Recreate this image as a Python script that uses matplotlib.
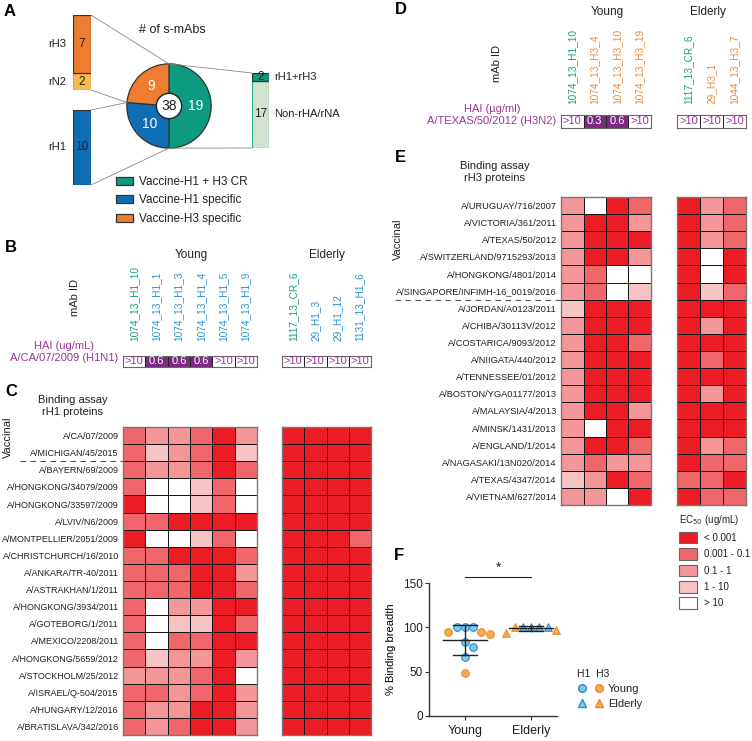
import numpy as np
import matplotlib.pyplot as plt
from matplotlib.colors import ListedColormap, BoundaryNorm
from matplotlib.patches import Circle, ConnectionPatch, Patch
from matplotlib.lines import Line2D
from matplotlib.legend_handler import HandlerTuple

plt.rcParams['font.family'] = ['Liberation Sans', 'DejaVu Sans']
plt.rcParams['text.color'] = '#231f20'
plt.rcParams['xtick.color'] = '#231f20'
plt.rcParams['ytick.color'] = '#231f20'

# ---------------------------------------------------------------- data
# panel A
pie_groups = ['Vaccine-H1 + H3 CR', 'Vaccine-H1 specific', 'Vaccine-H3 specific']
pie_counts = [19, 10, 9]
h3_bar_names = ['rN2', 'rH3']
h3_bar_counts = [2, 7]
h1_bar_names = ['rH1']
h1_bar_counts = [10]
cr_bar_names = ['Non-rHA/rNA', 'rH1+rH3']
cr_bar_counts = [17, 2]

# panel B
b_young_ids = ['1074_13_H1_10', '1074_13_H1_1', '1074_13_H1_3', '1074_13_H1_4',
               '1074_13_H1_5', '1074_13_H1_9']
b_young_hai = ['>10', '0.6', '0.6', '0.6', '>10', '>10']
b_elderly_ids = ['1117_13_CR_6', '29_H1_3', '29_H1_12', '1131_13_H1_6']
b_elderly_hai = ['>10', '>10', '>10', '>10']

# panel D
d_young_ids = ['1074_13_H1_10', '1074_13_H3_4', '1074_13_H3_10', '1074_13_H3_19']
d_young_hai = ['>10', '0.3', '0.6', '>10']
d_elderly_ids = ['1117_13_CR_6', '29_H3_1', '1044_13_H3_7']
d_elderly_hai = ['>10', '>10', '>10']
cross_reactive_ids = ['1074_13_H1_10', '1117_13_CR_6']

# EC50 classes: 0 = <0.001, 1 = 0.001-0.1, 2 = 0.1-1, 3 = 1-10, 4 = >10
ec50_classes = ['< 0.001', '0.001 - 0.1', '0.1 - 1', '1 - 10', '> 10']

# panel C
h1_strains = ['A/CA/07/2009', 'A/MICHIGAN/45/2015', 'A/BAYERN/69/2009',
              'A/HONGKONG/34079/2009', 'A/HONGKONG/33597/2009', 'A/LVIV/N6/2009',
              'A/MONTPELLIER/2051/2009', 'A/CHRISTCHURCH/16/2010', 'A/ANKARA/TR-40/2011',
              'A/ASTRAKHAN/1/2011', 'A/HONGKONG/3934/2011', 'A/GOTEBORG/1/2011',
              'A/MEXICO/2208/2011', 'A/HONGKONG/5659/2012', 'A/STOCKHOLM/25/2012',
              'A/ISRAEL/Q-504/2015', 'A/HUNGARY/12/2016', 'A/BRATISLAVA/342/2016']
h1_young = [[1, 2, 2, 1, 0, 2],
            [1, 3, 2, 1, 0, 3],
            [1, 2, 2, 1, 0, 1],
            [1, 4, 4, 3, 1, 4],
            [0, 4, 4, 3, 1, 4],
            [1, 1, 0, 0, 0, 0],
            [0, 4, 4, 3, 1, 4],
            [1, 1, 0, 0, 0, 1],
            [1, 1, 1, 0, 0, 2],
            [1, 1, 1, 0, 0, 1],
            [1, 4, 2, 2, 0, 0],
            [1, 4, 3, 3, 0, 1],
            [1, 4, 1, 1, 0, 0],
            [1, 3, 2, 2, 0, 2],
            [2, 2, 2, 1, 0, 4],
            [1, 1, 2, 1, 0, 2],
            [1, 2, 2, 0, 0, 2],
            [1, 2, 1, 0, 0, 2]]
h1_elderly = [[0, 0, 0, 0]] * 6 + [[0, 0, 0, 1]] + [[0, 0, 0, 0]] * 11

# panel E
h3_strains = ['A/URUGUAY/716/2007', 'A/VICTORIA/361/2011', 'A/TEXAS/50/2012',
              'A/SWITZERLAND/9715293/2013', 'A/HONGKONG/4801/2014',
              'A/SINGAPORE/INFIMH-16_0019/2016', 'A/JORDAN/A0123/2011',
              'A/CHIBA/30113V/2012', 'A/COSTARICA/9093/2012', 'A/NIIGATA/440/2012',
              'A/TENNESSEE/01/2012', 'A/BOSTON/YGA01177/2013', 'A/MALAYSIA/4/2013',
              'A/MINSK/1431/2013', 'A/ENGLAND/1/2014', 'A/NAGASAKI/13N020/2014',
              'A/TEXAS/4347/2014', 'A/VIETNAM/627/2014']
h3_young = [[2, 4, 0, 1],
            [2, 0, 0, 2],
            [2, 0, 0, 0],
            [2, 0, 0, 2],
            [2, 1, 4, 4],
            [2, 1, 4, 3],
            [3, 0, 0, 0],
            [2, 0, 0, 0],
            [2, 0, 0, 1],
            [2, 0, 0, 0],
            [2, 0, 0, 0],
            [2, 0, 0, 0],
            [2, 0, 0, 2],
            [2, 4, 0, 0],
            [2, 0, 0, 1],
            [2, 1, 2, 2],
            [3, 2, 0, 1],
            [2, 2, 4, 0]]
h3_elderly = [[0, 2, 1],
              [0, 2, 1],
              [0, 2, 1],
              [0, 4, 0],
              [0, 4, 0],
              [0, 3, 1],
              [0, 0, 0],
              [0, 2, 0],
              [0, 0, 0],
              [0, 1, 0],
              [0, 0, 0],
              [0, 2, 0],
              [0, 0, 0],
              [0, 0, 0],
              [0, 2, 1],
              [0, 1, 1],
              [1, 1, 0],
              [0, 1, 1]]
n_vaccinal_h1 = 2
n_vaccinal_h3 = 6

# panel F
f_groups = ['Young', 'Elderly']
young_h1 = [100, 100, 100, 78, 83, 67]
young_h3 = [95, 93, 95, 49]
elderly_h1 = [100, 100, 100, 100]
elderly_h3 = [94, 97, 100]

# ---------------------------------------------------------------- style
GREEN = '#0e9a7e'
BLUE = '#0f6db4'
ORANGE = '#ee7d31'
YELLOW = '#f5bb4d'
PALEGREEN = '#d3e2cf'
PURPLE = '#7d2a82'
PURPLE_TXT = '#9c3596'
LBL_GREEN = '#17a185'
LBL_BLUE = '#2a95d3'
LBL_ORANGE = '#f08a3c'
ec50_colors = ['#ec1c24', '#ef666b', '#f39599', '#f7c4c6', '#ffffff']
ec50_cmap = ListedColormap(ec50_colors)
ec50_norm = BoundaryNorm(np.arange(-0.5, 5.5, 1), 5)

W, H = 752, 741
fig = plt.figure(figsize=(W / 100, H / 100), dpi=100)


def axes_px(x0, y0, x1, y1):
    return fig.add_axes([x0 / W, 1 - y1 / H, (x1 - x0) / W, (y1 - y0) / H])


over = fig.add_axes([0, 0, 1, 1], zorder=10)
over.set_xlim(0, W)
over.set_ylim(H, 0)
over.axis('off')
over.patch.set_visible(False)


def label(x, y, s, **kw):
    kw.setdefault('ha', 'center')
    kw.setdefault('va', 'center')
    over.text(x, y, s, **kw)


for letter, x, y in [('A', 4, 11), ('B', 5, 247), ('C', 5, 392),
                     ('D', 395, 10), ('E', 395, 157), ('F', 394, 555)]:
    label(x, y, letter, ha='left', fontsize=12, fontweight='bold', color='black')

# ---------------------------------------------------------------- A
ax_pie = axes_px(126, 63, 212, 149)
total = sum(pie_counts)
wedges, _, autotexts = ax_pie.pie(
    pie_counts, colors=[GREEN, BLUE, ORANGE], startangle=90, counterclock=False,
    autopct=lambda p: '%d' % round(p * total / 100), pctdistance=0.63,
    wedgeprops=dict(edgecolor='#333333', linewidth=0.9),
    textprops=dict(color='white', fontsize=10))
ax_pie.set_xlim(-1.02, 1.02)
ax_pie.set_ylim(-1.02, 1.02)
ax_pie.add_patch(Circle((0, 0), 0.3, facecolor='white', edgecolor='#222222', lw=1, zorder=5))
ax_pie.text(0, 0, str(total), ha='center', va='center', fontsize=10, zorder=6)
label(172, 30, '# of s-mAbs', fontsize=9)

ang = np.deg2rad(90 - 360 * (pie_counts[0] + pie_counts[1]) / total)
split_pt = (np.cos(ang), np.sin(ang))


def stacked_bar(ax, names, counts, colors, edges, text_side):
    bottom = 0
    for name, c, col, ec in zip(names, counts, colors, edges):
        ax.bar(0, c, width=1, bottom=bottom, color=col, edgecolor=ec, linewidth=0.9)
        ax.text(0, bottom + c / 2, str(c), ha='center', va='center', fontsize=8.5)
        if text_side == 'left':
            ax.text(-0.85, bottom + c / 2, name, ha='right', va='center', fontsize=8)
        else:
            ax.text(0.78, bottom + c / 2, name, ha='left', va='center', fontsize=8)
        bottom += c
    ax.set_xlim(-0.5, 0.5)
    ax.set_ylim(0, bottom)
    ax.axis('off')


ax_h3 = axes_px(73, 15, 91, 90)
stacked_bar(ax_h3, h3_bar_names, h3_bar_counts, [YELLOW, ORANGE], ['#ef9b3a', '#333333'], 'left')
ax_h1 = axes_px(73, 110, 91, 185)
stacked_bar(ax_h1, h1_bar_names, h1_bar_counts, [BLUE], ['#333333'], 'left')
ax_cr = axes_px(252, 73, 269, 148)
stacked_bar(ax_cr, cr_bar_names, cr_bar_counts, [PALEGREEN, GREEN], ['#35b29a', '#333333'], 'right')

for (axb, pb), pp in [((ax_h3, (0.5, sum(h3_bar_counts))), (0, 1)),
                      ((ax_h3, (0.5, 0)), split_pt),
                      ((ax_h1, (0.5, sum(h1_bar_counts))), split_pt),
                      ((ax_h1, (0.5, 0)), (0, -1)),
                      ((ax_cr, (-0.5, sum(cr_bar_counts))), (0, 1)),
                      ((ax_cr, (-0.5, 0)), (0, -1))]:
    fig.add_artist(ConnectionPatch(xyA=pb, coordsA=axb.transData, xyB=pp,
                                   coordsB=ax_pie.transData, color='#8a8a8a', lw=0.6))

fig.legend(wedges, pie_groups, loc='upper left', bbox_to_anchor=(116 / W, 1 - 176 / H),
           frameon=False, fontsize=8.5, handlelength=1.45, handleheight=0.7,
           handletextpad=0.5, labelspacing=0.55, borderaxespad=0, borderpad=0)


# ---------------------------------------------------------------- B / D
def id_color(mab):
    if mab in cross_reactive_ids:
        return LBL_GREEN
    return LBL_BLUE if '_H1_' in mab else LBL_ORANGE


def hai_box(ax, ids, hai, label_pad, row_label=None, label_y=0.0):
    vals = np.array([[0 if h.startswith('>') else 1 for h in hai]])
    ax.pcolormesh(vals, cmap=ListedColormap(['white', PURPLE]), vmin=0, vmax=1,
                  edgecolors='#222222', linewidth=0.7)
    for i, h in enumerate(hai):
        ax.text(i + 0.5, 0.5, h, ha='center', va='center', fontsize=8,
                color='white' if vals[0, i] else PURPLE_TXT)
    ax.set_xlim(0, len(ids))
    ax.set_ylim(0, 1)
    ax.xaxis.tick_top()
    ax.set_xticks(np.arange(len(ids)) + 0.5, ids, rotation=90, fontsize=7.3)
    for t, mab in zip(ax.get_xticklabels(), ids):
        t.set_color(id_color(mab))
    ax.set_yticks([])
    ax.tick_params(length=0, pad=label_pad)
    for sp in ax.spines.values():
        sp.set_color('#666666')
    if row_label:
        ax.text(-0.2, label_y, row_label, transform=ax.transData, ha='right', va='bottom',
                multialignment='center', fontsize=8, color=PURPLE_TXT)


ax_by = axes_px(123, 356, 257, 367)
hai_box(ax_by, b_young_ids, b_young_hai, 11, 'HAI (ug/mL)\nA/CA/07/2009 (H1N1)', 0.4)
ax_be = axes_px(282, 356, 371, 367)
hai_box(ax_be, b_elderly_ids, b_elderly_hai, 11)
label(191, 255, 'Young', fontsize=8.5)
label(327, 255, 'Elderly', fontsize=8.5)
label(75, 297, 'mAb ID', rotation=90, fontsize=8)

ax_dy = axes_px(561, 115, 651, 128)
hai_box(ax_dy, d_young_ids, d_young_hai, 8, 'HAI (\u00b5g/ml)\nA/TEXAS/50/2012 (H3N2)', 0.17)
ax_de = axes_px(677, 115, 746, 128)
hai_box(ax_de, d_elderly_ids, d_elderly_hai, 8)
label(607, 12, 'Young', fontsize=8.5)
label(708, 12, 'Elderly', fontsize=8.5)
label(497, 63, 'mAb ID', rotation=90, fontsize=8)


# ---------------------------------------------------------------- C / E
def heat(ax, levels, rows=None, row_fs=6.7):
    arr = np.array(levels)
    ax.pcolormesh(arr, cmap=ec50_cmap, norm=ec50_norm, edgecolors='#151515', linewidth=0.7)
    ax.set_xlim(0, arr.shape[1])
    ax.set_ylim(arr.shape[0], 0)
    ax.set_xticks([])
    if rows:
        ax.set_yticks(np.arange(len(rows)) + 0.5, rows, fontsize=row_fs)
        ax.tick_params(length=0, pad=3)
    else:
        ax.set_yticks([])
    for sp in ax.spines.values():
        sp.set_color('#777777')
        sp.set_linewidth(1)
    return ax


ax_cy = heat(axes_px(123, 427, 257, 735), h1_young, h1_strains, row_fs=6.45)
ax_ce = heat(axes_px(282, 427, 371, 735), h1_elderly)
ax_cy.plot([-4.6, 0], [n_vaccinal_h1] * 2, ls=(0, (5, 4)), color='#555555', lw=0.8, clip_on=False)
label(73, 406, 'Binding assay\nrH1 proteins', fontsize=8, linespacing=1.15)
label(8, 437, 'Vaccinal', rotation=90, fontsize=8)

ax_ey = heat(axes_px(561, 197, 651, 505), h3_young, h3_strains)
ax_ee = heat(axes_px(677, 197, 746, 505), h3_elderly)
ax_ey.plot([-7.4, 0], [n_vaccinal_h3] * 2, ls=(0, (5, 4)), color='#555555', lw=0.8, clip_on=False)
label(495, 172, 'Binding assay\nrH3 proteins', fontsize=8, linespacing=1.15)
label(398, 239, 'Vaccinal', rotation=90, fontsize=8)

ec_handles = [Patch(facecolor=c, edgecolor='#666666', lw=0.8) for c in ec50_colors]
fig.legend(ec_handles, ec50_classes, loc='upper left', bbox_to_anchor=(679 / W, 1 - 513 / H),
           frameon=False, fontsize=7, handlelength=1.85, handleheight=1.45,
           handletextpad=0.75, labelspacing=0.5, borderaxespad=0, borderpad=0,
           title='EC$_{50}$ (ug/mL)', title_fontsize=7, alignment='left')

# ---------------------------------------------------------------- F
axF = axes_px(429, 583, 557, 716)
axF.set_xlim(-0.545, 1.393)
axF.set_ylim(0, 150)
px_x = 128 / (1.393 + 0.545)
px_y = 133 / 150.0


def swarm(values, diam=7.5):
    placed, offs = [], []
    cands = [0]
    for i in range(1, 30):
        cands += [i, -i]
    for v in values:
        y = v * px_y
        for c in cands:
            x = c * diam * 0.55
            if all((x - a) ** 2 + (y - b) ** 2 >= diam ** 2 for a, b in placed):
                break
        placed.append((x, y))
        offs.append(x / px_x)
    return np.array(offs)


H1_FACE, H1_EDGE = '#7fc8ea', '#2a8bc9'
H3_FACE, H3_EDGE = '#f7aa4f', '#ec8a2a'
for gi, (h1v, h3v, mk) in enumerate([(young_h1, young_h3, 'o'), (elderly_h1, elderly_h3, '^')]):
    allv = np.array(h1v + h3v, dtype=float)
    order = np.argsort(-allv, kind='stable')
    offs = np.zeros(len(allv))
    offs[order] = swarm(allv[order])
    n1 = len(h1v)
    axF.scatter(gi + offs[:n1], h1v, marker=mk, s=30, facecolor=H1_FACE, edgecolor=H1_EDGE,
                lw=0.8, zorder=3, clip_on=False)
    axF.scatter(gi + offs[n1:], h3v, marker=mk, s=30, facecolor=H3_FACE, edgecolor=H3_EDGE,
                lw=0.8, zorder=3, clip_on=False)
    m, sd = allv.mean(), allv.std(ddof=1)
    axF.plot([gi - 0.33, gi + 0.33], [m, m], color='#222222', lw=1, zorder=4)
    axF.plot([gi, gi], [m - sd, m + sd], color='#222222', lw=1, zorder=4)
    for yv in (m - sd, m + sd):
        axF.plot([gi - 0.18, gi + 0.18], [yv, yv], color='#222222', lw=1, zorder=4)

axF.plot([0, 1], [156.5, 156.5], color='#222222', lw=0.8, clip_on=False)
axF.text(0.5, 159, '*', ha='center', va='bottom', fontsize=10)
axF.spines[['top', 'right']].set_visible(False)
for sp in axF.spines.values():
    sp.set_linewidth(1)
    sp.set_color('#333333')
axF.set_yticks([0, 50, 100, 150])
axF.set_xticks([0, 1], f_groups)
axF.tick_params(labelsize=9, length=3, width=0.8, color='#333333')
axF.tick_params(axis='y', labelsize=8.5, pad=1.5)
axF.set_ylabel('% Binding breadth', fontsize=8, labelpad=5)

leg_h = [(Line2D([], [], ls='', marker='o', ms=5.5, mfc=H1_FACE, mec=H1_EDGE),
          Line2D([], [], ls='', marker='o', ms=5.5, mfc=H3_FACE, mec=H3_EDGE)),
         (Line2D([], [], ls='', marker='^', ms=5.5, mfc=H1_FACE, mec=H1_EDGE),
          Line2D([], [], ls='', marker='^', ms=5.5, mfc=H3_FACE, mec=H3_EDGE))]
fig.legend(leg_h, f_groups, handler_map={tuple: HandlerTuple(ndivide=None, pad=0.6)},
           loc='upper left', bbox_to_anchor=(577 / W, 1 - 669 / H), frameon=False,
           fontsize=8, handlelength=2.4, handletextpad=0.4, labelspacing=0.45,
           borderaxespad=0, borderpad=0, title='H1  H3', title_fontsize=7.5, alignment='left')

fig.savefig('out.png', dpi=100)
